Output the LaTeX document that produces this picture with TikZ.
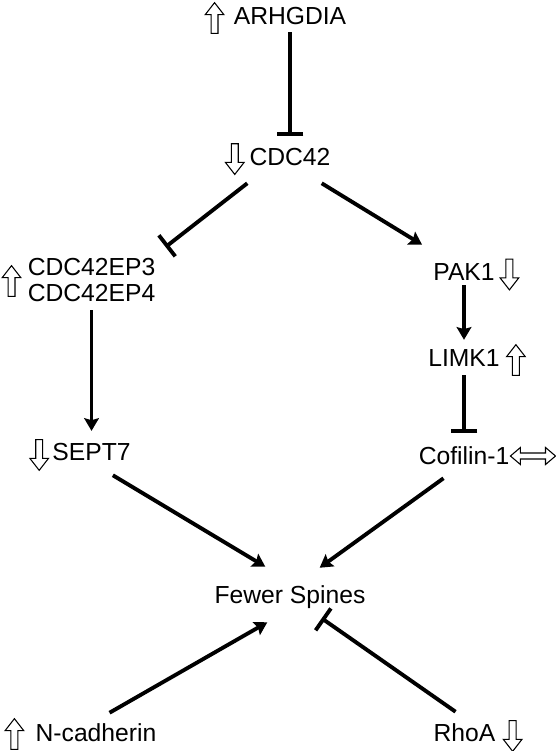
\documentclass[tikz,border=0pt]{standalone}
\usepackage{fontspec}
\setmainfont{Liberation Sans}
\usetikzlibrary{positioning,arrows.meta}

\begin{document}
\begin{tikzpicture}[x=1pt, y=1pt, on grid,
    gene/.style = {inner sep=0pt, font=\fontsize{18.5}{19.5}\selectfont, text height=13.3pt, text depth=0pt},
    epnode/.style = {inner sep=0pt, font=\fontsize{18.5}{19.5}\selectfont, align=left},
    act/.style = {line width=2.9pt, -{Stealth[length=9.5pt, width=11pt, inset=1.5pt]}},
    inh/.style = {line width=2.9pt, -{Bar[width=20pt]}},
    hollow/.style = {line width=0.8pt, fill=white},
    uparr/.pic = {\draw[hollow] (0,11.5) -- (7,2.5) -- (2.6,2.5) -- (2.6,-11.5) -- (-2.6,-11.5) -- (-2.6,2.5) -- (-7,2.5) -- cycle;},
    downarr/.pic = {\draw[hollow] (0,-11.5) -- (7,-2.5) -- (2.6,-2.5) -- (2.6,11.5) -- (-2.6,11.5) -- (-2.6,-2.5) -- (-7,-2.5) -- cycle;},
    lrarr/.pic = {\draw[hollow] (-16.9,0) -- (-9.4,6.4) -- (-9.4,2.25) -- (9.4,2.25) -- (9.4,6.4) -- (16.9,0) -- (9.4,-6.4) -- (9.4,-2.25) -- (-9.4,-2.25) -- (-9.4,-6.4) -- cycle;}]
    \useasboundingbox (0,0) rectangle (417,-563.25);

    \node[gene] (arhgdia) at (217.5,-12) {ARHGDIA};
    \node[gene] (cdc42) [below=105.4pt of arhgdia] {CDC42};
    \node[epnode] (ep) [below left=92.6pt and 148.85pt of cdc42] {CDC42EP3\\CDC42EP4};
    \node[gene] (pak) [below right=86.6pt and 130.5pt of cdc42] {PAK1};
    \node[gene] (limk) [below=64.5pt of pak] {LIMK1};
    \node[gene] (cofilin) [below=73.5pt of limk] {Cofilin-1};
    \node[gene] (sept) [below=129pt of ep] {SEPT7};
    \node[gene] (spines) [below=328.85pt of cdc42] {Fewer Spines};
    \node[gene] (ncad) [below left=103.5pt and 145.5pt of spines] {N-cadherin};
    \node[gene] (rhoa) [below right=103.5pt and 130.9pt of spines] {RhoA};

    % up / down changes
    \pic at ([shift={(-14.25,-1.5)}]arhgdia.west) {uparr};
    \pic at ([shift={(-10.9,-1.9)}]cdc42.west) {downarr};
    \pic at ([shift={(-12,-0.75)}]ep.west) {uparr};
    \pic at ([shift={(10.9,-1.9)}]pak.east) {downarr};
    \pic at ([shift={(12,-1.5)}]limk.east) {uparr};
    \pic at ([shift={(-9.75,-2.25)}]sept.west) {downarr};
    \pic at ([shift={(17.6,0)}]cofilin.east) {lrarr};
    \pic at ([shift={(-15.75,-0.75)}]ncad.west) {uparr};
    \pic at ([shift={(12.75,-2.25)}]rhoa.east) {downarr};

    \draw[inh, shorten <=5.35pt, shorten >=8.75pt] (arhgdia.south) -- (arhgdia.south |- cdc42.north);
    \draw[inh] ([shift={(-1.5,-13.2)}]cdc42.south west) -- ([shift={(7.5,8.25)}]ep.north east);
    \draw[act] ([shift={(-6.75,-13.2)}]cdc42.south east) -- ([shift={(-8.25,13.6)}]pak.north west);

    \draw[act, shorten <=6pt, shorten >=9pt] (ep.south) -- (ep.south |- sept.north);
    \draw[act, shorten <=3pt, shorten >=6.8pt] (limk.north |- pak.south) -- (limk.north);
    \draw[inh, shorten <=6pt, shorten >=10.5pt] (limk.south) -- (limk.south |- cofilin.north);

    \draw[act] ([shift={(-13.5,-10.6)}]sept.south east) -- ([shift={(38.25,14.35)}]spines.north west);
    \draw[act] ([shift={(18.75,-9.85)}]cofilin.south west) -- ([shift={(-34.5,13.6)}]spines.north east);
    \draw[act] ([shift={(10.15,8.35)}]ncad.north) -- ([shift={(39.75,-13.6)}]spines.south west);
    \draw[inh] ([shift={(-6.75,9.1)}]rhoa.north) -- ([shift={(-33,-10.6)}]spines.south east);
\end{tikzpicture}
\end{document}
